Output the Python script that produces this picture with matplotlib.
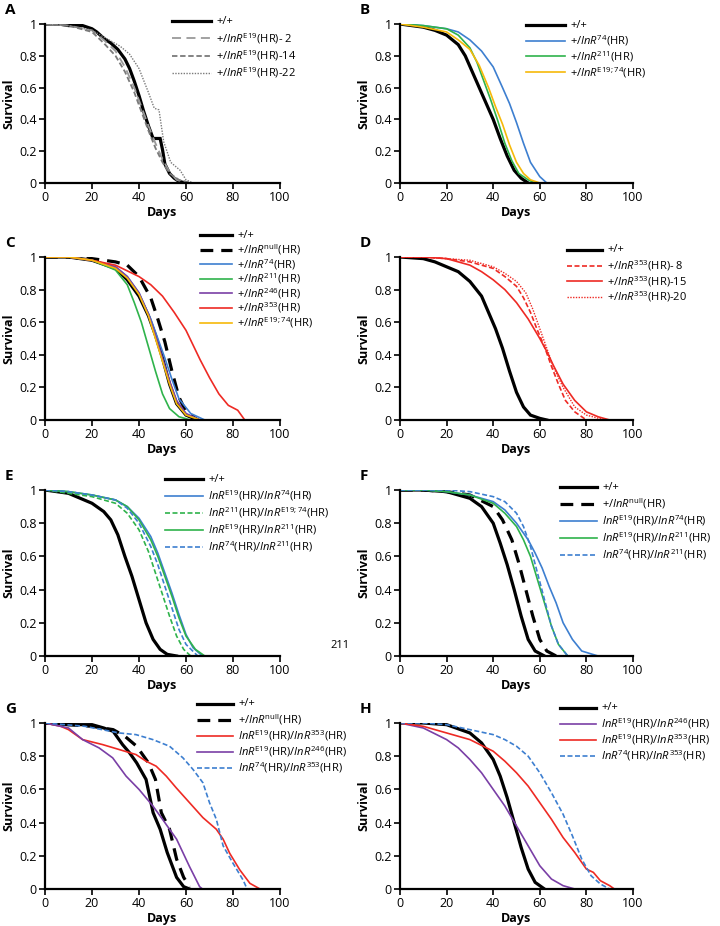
import matplotlib
matplotlib.use("Agg")
import matplotlib.pyplot as plt
from matplotlib.lines import Line2D

plt.rcParams['font.family'] = ['Open Sans', 'DejaVu Sans']
plt.rcParams['mathtext.fontset'] = 'custom'
plt.rcParams['mathtext.it'] = 'Open Sans:italic'
plt.rcParams['mathtext.rm'] = 'Open Sans'

W, H = 720, 926

# ---------------- data ----------------
# Panel A
A_wt_d = [0, 6, 10, 16, 20, 22, 25, 28, 31, 34, 36, 38, 40, 42, 44, 46, 49, 50, 51, 53, 55, 57, 60]
A_wt_s = [1, 1, 0.99, 0.99, 0.97, 0.95, 0.91, 0.88, 0.84, 0.78, 0.72, 0.64, 0.55, 0.45, 0.36, 0.28, 0.28, 0.21, 0.12, 0.06, 0.03, 0.01, 0]
A_2_d = [0, 10, 20, 25, 30, 34, 38, 41, 44, 47, 50, 53, 56, 60]
A_2_s = [1, 0.99, 0.96, 0.9, 0.83, 0.73, 0.6, 0.48, 0.36, 0.25, 0.15, 0.07, 0.02, 0]
A_14_d = [0, 10, 20, 25, 30, 34, 38, 41, 44, 47, 50, 53, 57, 62]
A_14_s = [1, 0.99, 0.95, 0.88, 0.8, 0.7, 0.57, 0.45, 0.33, 0.22, 0.13, 0.06, 0.02, 0]
A_22_d = [0, 10, 20, 26, 32, 36, 40, 44, 46.5, 48.5, 50.5, 53.5, 57.5, 60, 63]
A_22_s = [1, 0.99, 0.96, 0.91, 0.86, 0.81, 0.72, 0.57, 0.47, 0.46, 0.26, 0.13, 0.08, 0.02, 0]

# Panel B
B_wt_d = [0, 5, 10, 15, 20, 25, 28, 31, 34, 37, 40, 43, 46, 49, 52, 55]
B_wt_s = [1, 0.99, 0.98, 0.96, 0.93, 0.87, 0.8, 0.7, 0.6, 0.5, 0.4, 0.28, 0.17, 0.08, 0.03, 0]
B_74_d = [0, 10, 20, 25, 30, 35, 40, 44, 47, 50, 53, 56, 60, 63]
B_74_s = [1, 0.99, 0.97, 0.95, 0.9, 0.83, 0.73, 0.6, 0.5, 0.38, 0.25, 0.13, 0.04, 0]
B_211_d = [0, 10, 20, 25, 30, 33, 36, 39, 42, 45, 48, 51, 55, 58]
B_211_s = [1, 0.99, 0.97, 0.93, 0.85, 0.76, 0.64, 0.52, 0.39, 0.25, 0.14, 0.06, 0.02, 0]
B_e1974_d = [0, 10, 20, 25, 30, 34, 38, 41, 44, 47, 50, 53, 56, 60]
B_e1974_s = [1, 0.98, 0.95, 0.9, 0.84, 0.74, 0.6, 0.48, 0.37, 0.24, 0.13, 0.06, 0.02, 0]

# Panel C
C_wt_d = [0, 10, 20, 30, 35, 40, 44, 47, 50, 53, 56, 60, 65]
C_wt_s = [1, 1, 0.98, 0.93, 0.86, 0.76, 0.64, 0.52, 0.38, 0.22, 0.1, 0.03, 0]
C_null_d = [0, 10, 20, 30, 35, 40, 45, 48, 51, 54, 57, 60, 65]
C_null_s = [1, 1, 0.99, 0.97, 0.95, 0.88, 0.75, 0.62, 0.48, 0.3, 0.14, 0.05, 0]
C_74_d = [0, 10, 20, 30, 35, 40, 45, 48, 51, 54, 57, 62, 68]
C_74_s = [1, 1, 0.98, 0.94, 0.88, 0.78, 0.62, 0.5, 0.38, 0.25, 0.13, 0.04, 0]
C_211_d = [0, 10, 20, 30, 35, 38, 41, 44, 47, 50, 53, 57, 62]
C_211_s = [1, 1, 0.98, 0.92, 0.83, 0.72, 0.6, 0.45, 0.3, 0.16, 0.07, 0.02, 0]
C_246_d = [0, 10, 20, 30, 35, 40, 44, 47, 50, 53, 56, 60, 66]
C_246_s = [1, 1, 0.98, 0.94, 0.88, 0.78, 0.65, 0.52, 0.38, 0.24, 0.12, 0.04, 0]
C_353_d = [0, 10, 20, 30, 40, 45, 50, 55, 60, 63, 66, 70, 74, 78, 82, 85]
C_353_s = [1, 1, 0.98, 0.95, 0.88, 0.83, 0.76, 0.66, 0.55, 0.46, 0.37, 0.26, 0.16, 0.09, 0.06, 0]
C_e1974_d = [0, 10, 20, 30, 35, 40, 44, 47, 50, 53, 56, 60, 66]
C_e1974_s = [1, 1, 0.98, 0.93, 0.87, 0.77, 0.64, 0.5, 0.36, 0.22, 0.1, 0.03, 0]

# Panel D
D_wt_d = [0, 10, 15, 20, 25, 30, 35, 38, 41, 44, 47, 50, 53, 56, 60, 63]
D_wt_s = [1, 0.99, 0.97, 0.94, 0.91, 0.85, 0.76, 0.66, 0.56, 0.44, 0.3, 0.17, 0.08, 0.03, 0.01, 0]
D_8_d = [0, 10, 20, 30, 40, 45, 50, 53, 56, 59, 62, 65, 68, 71, 75, 80]
D_8_s = [1, 1, 0.99, 0.97, 0.93, 0.88, 0.82, 0.75, 0.66, 0.55, 0.45, 0.33, 0.22, 0.12, 0.05, 0]
D_15_d = [0, 10, 20, 30, 35, 40, 45, 50, 55, 60, 63, 66, 70, 75, 80, 85, 90]
D_15_s = [1, 1, 0.99, 0.95, 0.91, 0.86, 0.8, 0.72, 0.62, 0.5, 0.42, 0.33, 0.22, 0.12, 0.05, 0.02, 0]
D_20_d = [0, 10, 20, 30, 40, 45, 50, 54, 57, 60, 63, 66, 70, 75, 80, 88]
D_20_s = [1, 1, 0.99, 0.98, 0.94, 0.9, 0.85, 0.78, 0.68, 0.56, 0.44, 0.32, 0.2, 0.08, 0.03, 0]

# Panel E
E_wt_d = [0, 10, 15, 20, 25, 28, 31, 34, 37, 40, 43, 46, 49, 52, 56]
E_wt_s = [1, 0.98, 0.95, 0.92, 0.87, 0.82, 0.73, 0.6, 0.48, 0.34, 0.2, 0.1, 0.04, 0.01, 0]
E_e19_74_d = [0, 10, 20, 30, 35, 40, 45, 48, 51, 54, 57, 60, 63, 67]
E_e19_74_s = [1, 0.99, 0.97, 0.94, 0.9, 0.83, 0.72, 0.62, 0.5, 0.38, 0.25, 0.13, 0.05, 0]
E_211_e1974_d = [0, 10, 20, 30, 35, 40, 44, 47, 50, 53, 56, 59, 62]
E_211_e1974_s = [1, 0.98, 0.96, 0.92, 0.86, 0.76, 0.63, 0.5, 0.37, 0.24, 0.12, 0.04, 0]
E_e19_211_d = [0, 10, 20, 30, 35, 40, 45, 48, 51, 54, 57, 60, 64, 68]
E_e19_211_s = [1, 0.99, 0.97, 0.94, 0.9, 0.82, 0.7, 0.6, 0.48, 0.36, 0.23, 0.12, 0.04, 0]
E_74_211_d = [0, 10, 20, 30, 35, 40, 45, 48, 51, 54, 57, 60, 65]
E_74_211_s = [1, 0.99, 0.97, 0.94, 0.89, 0.8, 0.66, 0.55, 0.42, 0.29, 0.16, 0.07, 0]

# Panel F
F_wt_d = [0, 10, 20, 30, 35, 40, 43, 46, 49, 52, 55, 58, 62]
F_wt_s = [1, 1, 0.99, 0.95, 0.9, 0.8, 0.68, 0.55, 0.4, 0.24, 0.1, 0.03, 0]
F_null_d = [0, 10, 20, 30, 40, 44, 48, 51, 54, 57, 60, 63, 67]
F_null_s = [1, 1, 0.99, 0.97, 0.9, 0.82, 0.7, 0.56, 0.4, 0.24, 0.1, 0.03, 0]
F_e19_74_d = [0, 10, 20, 30, 40, 45, 50, 55, 58, 61, 64, 67, 70, 74, 78, 85]
F_e19_74_s = [1, 1, 0.99, 0.97, 0.93, 0.88, 0.8, 0.7, 0.62, 0.53, 0.42, 0.32, 0.2, 0.1, 0.03, 0]
F_e19_211_d = [0, 10, 20, 30, 40, 45, 50, 53, 56, 59, 62, 65, 68, 72]
F_e19_211_s = [1, 1, 0.99, 0.97, 0.92, 0.86, 0.78, 0.7, 0.6, 0.46, 0.32, 0.18, 0.07, 0]
F_74_211_d = [0, 10, 20, 30, 40, 45, 50, 53, 56, 59, 62, 65, 68, 72]
F_74_211_s = [1, 1, 1, 0.99, 0.96, 0.93, 0.86, 0.78, 0.66, 0.5, 0.34, 0.18, 0.07, 0]

# Panel G
G_wt_d = [0, 10, 20, 25, 29, 33, 36, 39, 43, 46, 49, 52, 56, 59, 61.5]
G_wt_s = [1, 0.99, 0.99, 0.97, 0.95, 0.87, 0.82, 0.76, 0.66, 0.46, 0.36, 0.22, 0.07, 0.014, 0]
G_null_d = [0, 10, 20, 29, 34, 39, 44, 47, 49.5, 53, 56, 59, 61.5]
G_null_s = [1, 0.99, 0.98, 0.96, 0.92, 0.86, 0.76, 0.66, 0.46, 0.36, 0.18, 0.07, 0.014]
G_e19_353_d = [0, 6.7, 10, 16, 24.5, 31.6, 38.7, 43, 47.3, 51.6, 55.8, 61.5, 67.2, 72.9, 75.8, 78.6, 82.9, 87.2, 91.5]
G_e19_353_s = [1, 0.98, 0.96, 0.9, 0.87, 0.84, 0.81, 0.77, 0.74, 0.68, 0.61, 0.52, 0.43, 0.36, 0.3, 0.215, 0.115, 0.034, 0]
G_e19_246_d = [0, 10, 16, 23, 28.8, 34.5, 40, 45.9, 50, 56, 61.5, 65.8, 67, 72]
G_e19_246_s = [1, 0.97, 0.9, 0.85, 0.79, 0.68, 0.6, 0.5, 0.42, 0.3, 0.135, 0.014, 0, 0]
G_74_353_d = [0, 17, 31.6, 38.7, 45.9, 53, 58.7, 63, 67.2, 70, 72.9, 75.8, 80, 84.3, 86]
G_74_353_s = [1, 0.98, 0.94, 0.93, 0.9, 0.86, 0.79, 0.72, 0.64, 0.52, 0.42, 0.26, 0.155, 0.054, 0]

# Panel H
H_wt_d = [0, 10, 20, 30, 35, 40, 43, 46, 49, 52, 55, 58, 62]
H_wt_s = [1, 1, 0.99, 0.94, 0.88, 0.78, 0.68, 0.55, 0.4, 0.25, 0.12, 0.04, 0]
H_e19_246_d = [0, 10, 20, 25, 30, 35, 40, 45, 50, 55, 60, 65, 70, 75]
H_e19_246_s = [1, 0.97, 0.9, 0.85, 0.78, 0.7, 0.6, 0.5, 0.38, 0.26, 0.14, 0.06, 0.02, 0]
H_e19_353_d = [0, 10, 20, 30, 40, 45, 50, 55, 60, 65, 70, 75, 80, 83, 86, 90, 92]
H_e19_353_s = [1, 0.98, 0.94, 0.9, 0.83, 0.77, 0.7, 0.62, 0.52, 0.42, 0.31, 0.22, 0.12, 0.1, 0.05, 0.02, 0]
H_74_353_d = [0, 10, 20, 30, 40, 45, 50, 55, 60, 65, 70, 74, 78, 82, 86, 90]
H_74_353_s = [1, 1, 0.99, 0.96, 0.93, 0.9, 0.86, 0.8, 0.7, 0.58, 0.45, 0.32, 0.18, 0.08, 0.03, 0]

x_ticks = [0, 20, 40, 60, 80, 100]
y_ticks = [0, 0.2, 0.4, 0.6, 0.8, 1]
y_ticklabels = ["0", "0.2", "0.4", "0.6", "0.8", "1"]

# ---------------- styles ----------------
BLACK = "#000000"
GRAY1 = "#9a9a9a"
GRAY2 = "#7a7a7a"
BLUE = "#3d7fd0"
GREEN = "#2fb34b"
PURPLE = "#7a3fa6"
RED = "#ee2a24"
YELLOW = "#f6b90a"

def lab(base, sup, tail, pre="+/"):
    return pre + r"$\mathit{" + base + r"}^{\mathrm{" + sup + r"}}$" + tail

def lab2(s1, s2, t1="(HR)/", t2="(HR)"):
    return (r"$\mathit{InR}^{\mathrm{" + s1 + r"}}$" + t1 +
            r"$\mathit{InR}^{\mathrm{" + s2 + r"}}$" + t2)

thick = dict(color=BLACK, lw=2.3, ls="-")
thick_dash = dict(color=BLACK, lw=2.3, ls=(0, (4, 2.5)))
blue_dash = dict(color=BLUE, lw=1.2, ls=(0, (3, 1.5)))

panels = {
    "A": [(A_wt_d, A_wt_s, "+/+", thick),
          (A_2_d, A_2_s, lab("InR", "E19", "(HR)- 2"), dict(color=GRAY1, lw=1.3, ls=(0, (5, 3)))),
          (A_14_d, A_14_s, lab("InR", "E19", "(HR)-14"), dict(color=GRAY2, lw=1.3, ls=(0, (3, 1.5)))),
          (A_22_d, A_22_s, lab("InR", "E19", "(HR)-22"), dict(color=GRAY2, lw=1.0, ls=(0, (1, 1))))],
    "B": [(B_wt_d, B_wt_s, "+/+", thick),
          (B_74_d, B_74_s, lab("InR", "74", "(HR)"), dict(color=BLUE, lw=1.2, ls="-")),
          (B_211_d, B_211_s, lab("InR", "211", "(HR)"), dict(color=GREEN, lw=1.2, ls="-")),
          (B_e1974_d, B_e1974_s, lab("InR", "E19;74", "(HR)"), dict(color=YELLOW, lw=1.2, ls="-"))],
    "C": [(C_wt_d, C_wt_s, "+/+", thick),
          (C_null_d, C_null_s, lab("InR", "null", "(HR)"), thick_dash),
          (C_74_d, C_74_s, lab("InR", "74", "(HR)"), dict(color=BLUE, lw=1.2, ls="-")),
          (C_211_d, C_211_s, lab("InR", "211", "(HR)"), dict(color=GREEN, lw=1.2, ls="-")),
          (C_246_d, C_246_s, lab("InR", "246", "(HR)"), dict(color=PURPLE, lw=1.2, ls="-")),
          (C_353_d, C_353_s, lab("InR", "353", "(HR)"), dict(color=RED, lw=1.2, ls="-")),
          (C_e1974_d, C_e1974_s, lab("InR", "E19;74", "(HR)"), dict(color=YELLOW, lw=1.2, ls="-"))],
    "D": [(D_wt_d, D_wt_s, "+/+", thick),
          (D_8_d, D_8_s, lab("InR", "353", "(HR)- 8"), dict(color=RED, lw=1.2, ls=(0, (3, 1.5)))),
          (D_15_d, D_15_s, lab("InR", "353", "(HR)-15"), dict(color=RED, lw=1.2, ls="-")),
          (D_20_d, D_20_s, lab("InR", "353", "(HR)-20"), dict(color=RED, lw=1.0, ls=(0, (1, 1))))],
    "E": [(E_wt_d, E_wt_s, "+/+", thick),
          (E_e19_74_d, E_e19_74_s, lab2("E19", "74"), dict(color=BLUE, lw=1.2, ls="-")),
          (E_211_e1974_d, E_211_e1974_s, lab2("211", "E19;74"), dict(color=GREEN, lw=1.2, ls=(0, (3, 1.5)))),
          (E_e19_211_d, E_e19_211_s, lab2("E19", "211"), dict(color=GREEN, lw=1.2, ls="-")),
          (E_74_211_d, E_74_211_s, lab2("74", "211"), blue_dash)],
    "F": [(F_wt_d, F_wt_s, "+/+", thick),
          (F_null_d, F_null_s, lab("InR", "null", "(HR)"), thick_dash),
          (F_e19_74_d, F_e19_74_s, lab2("E19", "74"), dict(color=BLUE, lw=1.2, ls="-")),
          (F_e19_211_d, F_e19_211_s, lab2("E19", "211"), dict(color=GREEN, lw=1.2, ls="-")),
          (F_74_211_d, F_74_211_s, lab2("74", "211"), blue_dash)],
    "G": [(G_wt_d, G_wt_s, "+/+", thick),
          (G_null_d, G_null_s, lab("InR", "null", "(HR)"), thick_dash),
          (G_e19_353_d, G_e19_353_s, lab2("E19", "353"), dict(color=RED, lw=1.2, ls="-")),
          (G_e19_246_d, G_e19_246_s, lab2("E19", "246"), dict(color=PURPLE, lw=1.2, ls="-")),
          (G_74_353_d, G_74_353_s, lab2("74", "353"), blue_dash)],
    "H": [(H_wt_d, H_wt_s, "+/+", thick),
          (H_e19_246_d, H_e19_246_s, lab2("E19", "246"), dict(color=PURPLE, lw=1.2, ls="-")),
          (H_e19_353_d, H_e19_353_s, lab2("E19", "353"), dict(color=RED, lw=1.2, ls="-")),
          (H_74_353_d, H_74_353_s, lab2("74", "353"), blue_dash)],
}

# layout in pixels
cols = {0: (45, 280), 1: (400, 633)}
rows = {0: (24, 183), 1: (257, 420), 2: (490, 656), 3: (723, 889)}
layout = {"A": (0, 0), "B": (1, 0), "C": (0, 1), "D": (1, 1),
          "E": (0, 2), "F": (1, 2), "G": (0, 3), "H": (1, 3)}
# legend: line x0, line x1, first row y, row spacing
legend_pos = {"A": (172, 211, 21, 17.3), "B": (526, 565, 25, 15.7),
              "C": (200, 232, 235, 14.6), "D": (567, 602, 250, 15.7),
              "E": (165, 203, 479, 17), "F": (560, 597, 487, 17),
              "G": (197, 233, 704, 16), "H": (560, 596, 708, 16)}

fig = plt.figure(figsize=(W / 100, H / 100), dpi=100)

for key, series in panels.items():
    c, r = layout[key]
    x0, x1 = cols[c]
    y0, y1 = rows[r]
    ax = fig.add_axes([x0 / W, 1 - y1 / H, (x1 - x0) / W, (y1 - y0) / H])
    for d, s, label, st in series:
        ax.plot(d, s, solid_joinstyle="miter", **st)
    ax.set_xlim(0, 100)
    ax.set_ylim(0, 1)
    ax.set_xticks(x_ticks)
    ax.set_yticks(y_ticks)
    ax.set_yticklabels(y_ticklabels)
    for sp in ["top", "right"]:
        ax.spines[sp].set_visible(False)
    for sp in ["left", "bottom"]:
        ax.spines[sp].set_linewidth(1.6)
    ax.tick_params(direction="out", length=4, width=1.2, labelsize=9, pad=2)
    ax.set_xlabel("Days", fontsize=9, fontweight="bold", labelpad=1)
    ax.set_ylabel("Survival", fontsize=9, fontweight="bold", labelpad=3)
    ax.patch.set_alpha(0)
    fig.text((x0 - 40) / W, 1 - (y0 - 14) / H, key, fontsize=11, fontweight="bold",
             ha="left", va="center")
    lx0, lx1, ly, dy = legend_pos[key]
    for i, (d, s, label, st) in enumerate(series):
        yy = 1 - (ly + i * dy) / H
        fig.add_artist(Line2D([lx0 / W, lx1 / W], [yy, yy], **st))
        fig.text((lx1 + 5) / W, yy, label, fontsize=8, ha="left", va="center")

fig.text(340 / W, 1 - 645 / H, "211", fontsize=8, ha="center", va="center")

fig.savefig("out.png", dpi=100)
